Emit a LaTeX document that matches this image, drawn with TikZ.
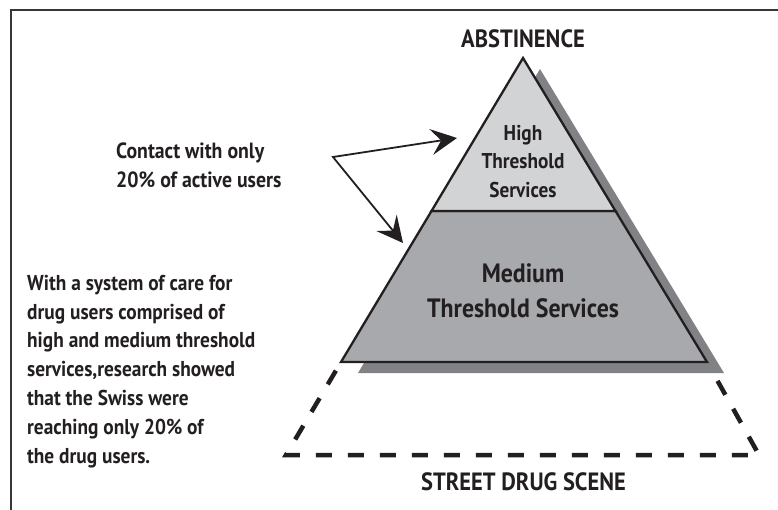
\documentclass[tikz,border=0pt]{standalone}
\usepackage{fontspec}
\newfontfamily\cond{PT Sans}[FakeStretch=0.9]
\usetikzlibrary{arrows.meta}
\definecolor{hiFill}{HTML}{D1D3D4}
\definecolor{medFill}{HTML}{A7A9AC}
\definecolor{shadowFill}{HTML}{808285}
\definecolor{ink}{HTML}{231F20}
\begin{document}
\begin{tikzpicture}[x=1pt,y=-1pt,
  lbl/.style={font=\cond\bfseries\fontsize{25}{30}\selectfont, text=ink, inner sep=0pt},
  smalltxt/.style={font=\cond\bfseries\fontsize{21.4}{28.5}\selectfont, text=ink, inner sep=0pt},
  contacttxt/.style={font=\cond\bfseries\fontsize{22}{29}\selectfont, text=ink, inner sep=0pt},
  paratxt/.style={font=\cond\bfseries\fontsize{21.5}{28.8}\selectfont, text=ink, inner sep=0pt},
  medtxt/.style={font=\cond\bfseries\fontsize{26.5}{35}\selectfont, text=ink, inner sep=0pt},
  tier/.style={draw=ink, line width=2.3pt, line join=miter},
  dashline/.style={draw=ink, line width=4.5pt, dash pattern=on 16pt off 16pt, dash phase=22pt},
  pointer/.style={draw=ink, line width=1.8pt, line join=miter,
    {Stealth[length=26pt,width=26pt,inset=10pt]}-{Stealth[length=26pt,width=26pt,inset=10pt]}},
  frameline/.style={draw=ink!90, line width=2.6pt}
]
\useasboundingbox (0,0) rectangle (778,510);
% frame
\draw[frameline] (11,510) -- (11,10) -- (778,10);
% key points
\coordinate (A) at (523,58);
\coordinate (BL) at (341,362);
\coordinate (BR) at (707,362);
\coordinate (ML) at (431.5,211);
\coordinate (MR) at (615.5,211);
\coordinate (DL) at (286,455);
\coordinate (DR) at (759,455);
% dashed street level
\draw[dashline] (BL) -- (DL) -- (DR) -- (BR);
% shadow
\fill[shadowFill] ([shift={(17,11)}]A) -- ([shift={(17,11)}]BL) -- ([shift={(17,11)}]BR) -- cycle;
% tiers
\draw[tier, fill=medFill] (ML) -- (BL) -- (BR) -- (MR) -- cycle;
\draw[tier, fill=hiFill] (A) -- (ML) -- (MR) -- cycle;
% labels (anchor base = baseline of the last line)
\node[lbl, anchor=base] (abst) at (523,48) {ABSTINENCE};
\node[lbl, anchor=base] (street) at (523.5,490) {STREET DRUG SCENE};
\node[smalltxt, align=center, anchor=base] (high) at (523,197.5) {High\\Threshold\\Services};
\node[medtxt, align=center, anchor=base] (med) at (523,317) {Medium\\Threshold Services};
\node[contacttxt, align=left, anchor=base west] (contact) at (116,188) {Contact with only\\20\% of active users};
\node[paratxt, align=left, anchor=base west] (para) at (27,463) {With a system of care for\\drug users comprised of\\high and medium threshold\\services,research showed\\that the Swiss were\\reaching only 20\% of\\the drug users.};
% arrows
\coordinate (O) at (333,157);
\coordinate (T1) at (457,138);
\coordinate (T2) at (403,243);
\draw[pointer] (T1) -- (O) -- (T2);
\end{tikzpicture}
\end{document}
